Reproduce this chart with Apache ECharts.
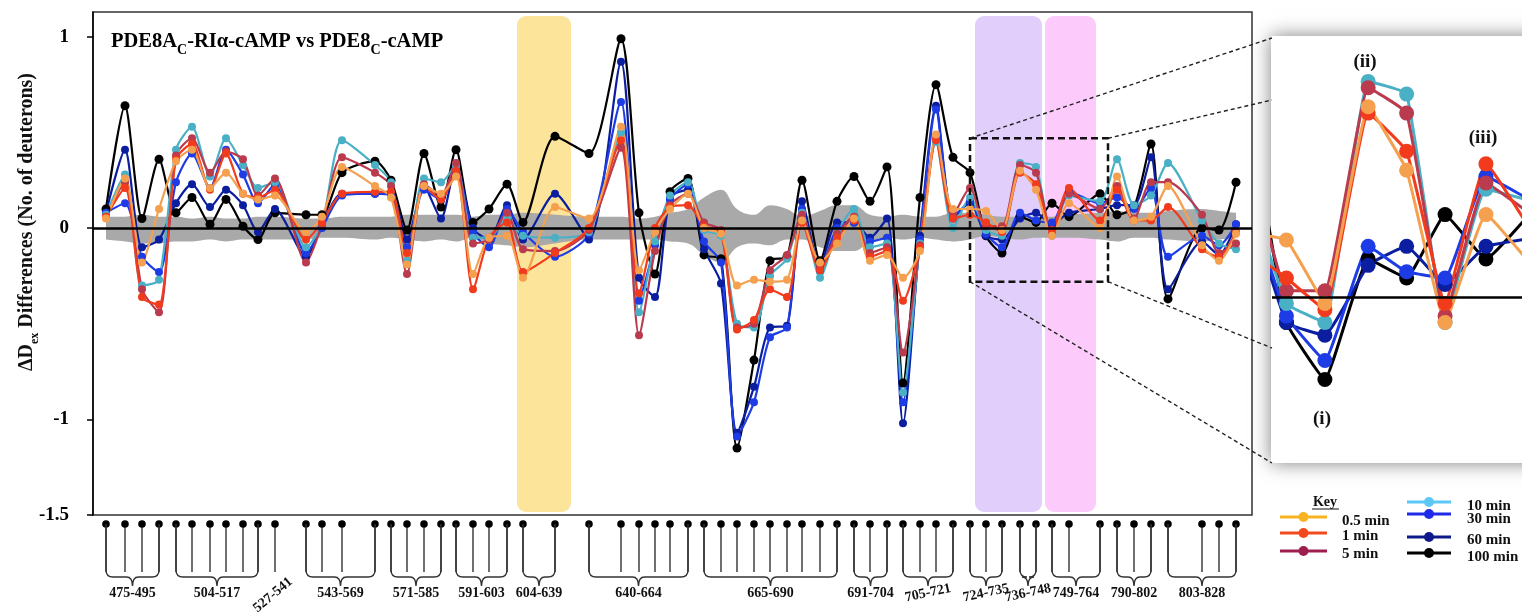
<!DOCTYPE html>
<html>
<head>
<meta charset="utf-8">
<script src="https://cdn.jsdelivr.net/npm/echarts@6/dist/echarts.min.js"></script>
<style>
html, body { margin: 0; padding: 0; background: #fff; }
#chart { width: 1522px; height: 612px; }
</style>
</head>
<body>
<div id="chart"></div>
<script>
// peptide positions along the map (x units shared by every axis)
var pepPos = [13,32,49,66,83,99,117,133,150,165,182,213,229,249,282,298,314,331,348,363,
  380,396,414,430,462,496,528,546,562,577,595,611,628,644,661,677,694,709,727,744,
  761,777,794,810,827,843,860,877,893,909,927,943,959,976,1007,1024,1041,1058,1075,1109,
  1126,1143];

// peptide groups under the axis (first / last point index)
var groupNames = ['475-495','504-517','527-541','543-569','571-585','591-603','604-639','640-664',
  '665-690','691-704','705-721','724-735','736-748','749-764','790-802','803-828'];
var groupFirst = [0,4,10,11,15,19,23,25,31,40,43,47,50,52,55,58];
var groupLast  = [3,9,10,14,18,22,24,30,39,42,46,49,51,54,57,61];

var seriesNames = ['0.5 min','1 min','5 min','10 min','30 min','60 min','100 min'];

var min05 = [0.05,0.26,-0.18,0.10,0.35,0.41,0.21,0.29,0.18,0.15,
  0.17,-0.02,0.06,0.32,0.22,0.16,-0.19,0.22,0.18,0.27,
  -0.24,-0.05,-0.04,-0.26,0.11,0.05,0.53,-0.22,-0.02,0.10,
  0.18,0.00,-0.03,-0.30,-0.27,-0.28,-0.27,0.04,-0.18,-0.08,
  0.05,-0.17,-0.14,-0.26,-0.12,0.49,0.10,0.10,0.09,-0.01,
  0.30,0.20,-0.04,0.13,0.00,0.27,0.04,0.06,0.22,-0.09,
  -0.17,-0.03];
var min1 = [0.06,0.21,-0.36,-0.40,0.36,0.44,0.20,0.39,0.18,0.16,
  0.20,-0.06,0.03,0.18,0.19,0.19,-0.13,0.22,0.15,0.30,
  -0.32,-0.05,0.03,-0.23,-0.13,0.00,0.46,-0.34,0.00,0.11,
  0.12,0.01,-0.02,-0.53,-0.48,-0.32,-0.36,0.03,-0.22,-0.05,
  0.04,-0.15,-0.12,-0.38,-0.10,0.46,0.05,0.07,0.03,-0.02,
  0.29,0.23,-0.01,0.21,0.04,0.20,0.04,0.04,0.11,-0.11,
  -0.15,-0.02];
var min5 = [0.06,0.24,-0.32,-0.44,0.38,0.47,0.29,0.40,0.36,0.17,
  0.26,-0.18,0.02,0.37,0.29,0.22,-0.24,0.23,0.17,0.34,
  -0.08,-0.06,0.08,-0.11,-0.12,-0.01,0.42,-0.56,-0.12,0.12,
  0.18,0.03,-0.01,-0.52,-0.50,-0.22,-0.14,0.07,-0.20,-0.03,
  0.06,-0.13,-0.10,-0.65,-0.09,0.47,0.07,0.21,0.01,0.01,
  0.33,0.29,-0.03,0.18,0.10,0.22,0.05,0.24,0.24,0.07,
  -0.13,-0.08];
var min10 = [0.07,0.28,-0.30,-0.27,0.41,0.53,0.27,0.47,0.33,0.21,
  0.24,-0.10,0.02,0.46,0.33,0.24,-0.17,0.26,0.24,0.33,
  -0.05,-0.05,0.05,-0.04,-0.05,-0.02,0.50,-0.44,-0.07,0.17,
  0.24,-0.01,-0.04,-0.50,-0.52,-0.25,-0.16,0.08,-0.26,-0.02,
  0.10,-0.10,-0.08,-0.86,-0.08,0.45,0.00,0.16,-0.01,-0.04,
  0.34,0.32,-0.04,0.17,0.14,0.36,0.12,0.17,0.34,0.04,
  -0.08,-0.11];
var min30 = [0.08,0.13,-0.15,-0.23,0.24,0.39,0.21,0.41,0.28,0.13,
  0.23,-0.13,0.00,0.17,0.18,0.17,-0.10,0.20,0.15,0.30,
  -0.02,-0.10,0.10,-0.02,-0.15,-0.03,0.66,-0.38,-0.09,0.15,
  0.23,-0.07,-0.18,-1.09,-0.91,-0.57,-0.52,0.10,-0.22,0.00,
  0.03,-0.07,-0.05,-0.91,-0.06,0.62,0.05,0.14,-0.03,-0.10,
  0.08,0.04,0.03,0.19,0.13,0.16,0.10,0.21,-0.15,-0.04,
  -0.09,0.02];
var min60 = [0.08,0.41,-0.10,-0.06,0.13,0.23,0.11,0.20,0.12,-0.02,
  0.10,-0.15,0.02,0.18,0.18,0.18,-0.06,0.22,0.05,0.33,
  0.00,-0.06,0.12,-0.06,0.18,-0.06,0.87,-0.26,-0.36,0.16,
  0.20,-0.11,-0.29,-1.07,-0.83,-0.52,-0.51,0.14,-0.20,0.03,
  0.03,-0.05,0.05,-1.02,-0.04,0.64,0.06,0.13,-0.04,-0.06,
  0.05,0.08,0.02,0.08,0.10,0.12,0.12,0.37,-0.32,-0.07,
  -0.14,0.02];
var min100 = [0.10,0.64,0.05,0.36,0.08,0.16,0.02,0.15,0.01,-0.06,
  0.08,0.07,0.07,0.29,0.35,0.25,-0.01,0.39,0.11,0.41,
  0.03,0.10,0.23,0.03,0.48,0.39,0.99,0.08,-0.24,0.19,
  0.26,-0.14,-0.16,-1.15,-0.69,-0.17,-0.15,0.25,-0.17,0.14,
  0.27,0.14,0.32,-0.81,0.16,0.75,0.37,0.29,-0.04,-0.13,
  0.06,0.03,0.13,0.06,0.18,0.07,0.11,0.44,-0.37,0.00,
  -0.01,0.24];

// significance band around zero
var ciUpper = [0.06,0.06,0.07,0.06,0.06,0.05,0.06,0.05,0.05,0.06,
  0.06,0.05,0.05,0.06,0.06,0.06,0.07,0.07,0.07,0.07,
  0.06,0.07,0.07,0.08,0.07,0.06,0.06,0.05,0.06,0.08,
  0.10,0.16,0.20,0.10,0.07,0.12,0.10,0.06,0.09,0.12,
  0.12,0.07,0.06,0.07,0.06,0.06,0.08,0.08,0.07,0.06,
  0.06,0.06,0.06,0.07,0.08,0.09,0.08,0.08,0.09,0.10,
  0.09,0.08];
var ciLower = [-0.06,-0.07,-0.08,-0.08,-0.07,-0.07,-0.06,-0.07,-0.06,-0.06,
  -0.06,-0.06,-0.05,-0.05,-0.06,-0.05,-0.06,-0.07,-0.06,-0.07,
  -0.05,-0.08,-0.09,-0.10,-0.08,-0.06,-0.06,-0.06,-0.06,-0.07,
  -0.08,-0.14,-0.18,-0.10,-0.08,-0.09,-0.06,-0.06,-0.10,-0.12,
  -0.12,-0.07,-0.05,-0.06,-0.05,-0.06,-0.07,-0.06,-0.04,-0.05,
  -0.06,-0.05,-0.05,-0.05,-0.06,-0.07,-0.05,-0.05,-0.06,-0.07,
  -0.06,-0.05];

var yTicks = [-1.5, -1, 0, 1];
var highlightStart = [424, 882, 952];
var highlightEnd = [478, 949, 1003];
var zoomBox = [877, 0.47, 1015, -0.28];
var insetRange = [887, 991, -0.26, 0.41];

var allSeries = [min05, min1, min5, min10, min30, min60, min100];
var lineColors = ['#F5A04E', '#F23B1C', '#BA3A4E', '#49B0C6', '#1D3CE6', '#0A1E9F', '#000000'];
var keyColors = ['#F8B323', '#F2491D', '#9C1F4F', '#5CC8F5', '#1F2BE8', '#0F1A8A', '#000000'];
var highlightColors = ['#FDE49B', '#E2CEFB', '#FCCBFC'];

var serif = '"Liberation Serif", "Times New Roman", serif';

function pairs(vals) {
  return pepPos.map(function (x, i) { return [x, vals[i]]; });
}

var chart = echarts.init(document.getElementById('chart'));

var series = [];

// shaded highlight columns
series.push({
  type: 'custom', xAxisIndex: 0, yAxisIndex: 0, z: 0, silent: true,
  data: highlightStart.map(function (s, i) { return [s, highlightEnd[i], i]; }),
  renderItem: function (params, api) {
    var cs = params.coordSys;
    var a = api.coord([api.value(0), 0])[0];
    var b = api.coord([api.value(1), 0])[0];
    return {
      type: 'rect',
      shape: { x: a, y: cs.y + 4, width: b - a, height: cs.height - 7, r: 9 },
      style: { fill: highlightColors[api.value(2)] }
    };
  }
});

// grey band
series.push({
  type: 'line', xAxisIndex: 0, yAxisIndex: 0, z: 1, silent: true,
  data: pairs(ciUpper), smooth: 0.4, symbol: 'none',
  lineStyle: { width: 0 }, areaStyle: { color: '#A9A9A9', opacity: 1 },
  markLine: {
    silent: true, symbol: 'none', label: { show: false },
    lineStyle: { color: '#000', width: 2.5, type: 'solid' },
    data: [{ yAxis: 0 }]
  }
});
series.push({
  type: 'line', xAxisIndex: 0, yAxisIndex: 0, z: 1, silent: true,
  data: pairs(ciLower), smooth: 0.4, symbol: 'none',
  lineStyle: { width: 0 }, areaStyle: { color: '#A9A9A9', opacity: 1 }
});

// time-course lines, main plot and inset
for (var k = allSeries.length - 1; k >= 0; k--) {
  series.push({
    name: seriesNames[k], type: 'line', xAxisIndex: 0, yAxisIndex: 0, z: 3,
    data: pairs(allSeries[k]), smooth: 0.25,
    symbol: 'circle', symbolSize: k === 6 ? 9 : 8,
    lineStyle: { color: lineColors[k], width: 2.2 },
    itemStyle: { color: lineColors[k] }
  });
}
for (var k2 = allSeries.length - 1; k2 >= 0; k2--) {
  var s = {
    name: seriesNames[k2], type: 'line', xAxisIndex: 2, yAxisIndex: 2, z: 3,
    data: pairs(allSeries[k2]), smooth: 0.1,
    symbol: 'circle', symbolSize: 15,
    lineStyle: { color: lineColors[k2], width: 3 },
    itemStyle: { color: lineColors[k2] }
  };
  if (k2 === 6) {
    s.markLine = {
      silent: true, symbol: 'none', label: { show: false },
      lineStyle: { color: '#000', width: 2.5, type: 'solid' },
      data: [{ yAxis: 0 }]
    };
  }
  series.push(s);
}

// dashed zoom box
series.push({
  type: 'custom', xAxisIndex: 0, yAxisIndex: 0, z: 6, silent: true,
  data: [zoomBox],
  renderItem: function (params, api) {
    var p1 = api.coord([api.value(0), api.value(1)]);
    var p2 = api.coord([api.value(2), api.value(3)]);
    return {
      type: 'rect',
      shape: { x: p1[0], y: p1[1], width: p2[0] - p1[0], height: p2[1] - p1[1] },
      style: { fill: 'none', stroke: '#111', lineWidth: 2.5, lineDash: [7, 4] }
    };
  }
});

// peptide lollipops
series.push({
  type: 'custom', xAxisIndex: 1, yAxisIndex: 1, silent: true,
  data: pepPos.map(function (x) { return [x, 0]; }),
  renderItem: function (params, api) {
    var x = api.coord([api.value(0), 0])[0];
    var top = params.coordSys.y;
    return {
      type: 'group',
      children: [
        { type: 'line', shape: { x1: x, y1: top + 9, x2: x, y2: top + 57 },
          style: { stroke: '#333', lineWidth: 1.4 } },
        { type: 'circle', shape: { cx: x, cy: top + 9, r: 3.8 }, style: { fill: '#000' } }
      ]
    };
  }
});

var tilted = { '527-541': 40, '705-721': 12, '724-735': 12, '736-748': 12 };
series.push({
  type: 'custom', xAxisIndex: 1, yAxisIndex: 1, silent: true,
  data: groupNames.map(function (n, g) { return [pepPos[groupFirst[g]], pepPos[groupLast[g]], g]; }),
  renderItem: function (params, api) {
    var x1 = api.coord([api.value(0), 0])[0];
    var x2 = api.coord([api.value(1), 0])[0];
    var name = groupNames[api.value(2)];
    var top = params.coordSys.y;
    var by = top + 62, ny = top + 71;
    var cx = (x1 + x2) / 2;
    var children = [];
    if (x2 - x1 > 1) {
      var d = 'M' + x1 + ' ' + (top + 9) + ' L' + x1 + ' ' + (by - 7) +
        ' Q' + x1 + ' ' + by + ' ' + (x1 + 7) + ' ' + by +
        ' L' + (cx - 6) + ' ' + by + ' Q' + cx + ' ' + by + ' ' + cx + ' ' + ny +
        ' Q' + cx + ' ' + by + ' ' + (cx + 6) + ' ' + by +
        ' L' + (x2 - 7) + ' ' + by + ' Q' + x2 + ' ' + by + ' ' + x2 + ' ' + (by - 7) +
        ' L' + x2 + ' ' + (top + 9);
      children.push({ type: 'path', shape: { pathData: d },
        style: { fill: 'none', stroke: '#333', lineWidth: 1.4 } });
    }
    var rot = tilted[name] || 0;
    var lx = cx, ly = top + 78;
    if (name === '527-541') { lx = cx - 2; ly = top + 80; }
    children.push({
      type: 'text', x: lx, y: ly, rotation: rot * Math.PI / 180,
      style: { text: name, font: 'bold 14px ' + serif, fill: '#111',
        align: 'center', verticalAlign: 'middle', textAlign: 'center', textVerticalAlign: 'middle' }
    });
    return { type: 'group', children: children };
  }
});

// key, inset frame, annotations
var graphics = [];
graphics.push({
  type: 'rect', z: 0, silent: true,
  shape: { x: 1271, y: 36, width: 280, height: 427 },
  style: { fill: '#fff', shadowBlur: 18, shadowColor: 'rgba(0,0,0,0.5)' }
});
graphics.push({
  type: 'text', x: 27, y: 222, rotation: Math.PI / 2, z: 10,
  style: {
    text: '{a|ΔD}{s|ex}{a| Differences (No. of deuterons)}',
    align: 'center', verticalAlign: 'middle', textAlign: 'center', textVerticalAlign: 'middle',
    rich: {
      a: { font: 'bold 20px ' + serif, fill: '#111' },
      s: { font: 'bold 12px ' + serif, fill: '#111', padding: [15, 0, 0, 0] }
    }
  }
});
var annot = [['(i)', 1322, 419], ['(ii)', 1365, 62], ['(iii)', 1483, 138]];
annot.forEach(function (a) {
  graphics.push({ type: 'text', x: a[1], y: a[2], z: 10,
    style: { text: a[0], font: 'bold 19px ' + serif, fill: '#111',
      align: 'center', verticalAlign: 'middle', textAlign: 'center', textVerticalAlign: 'middle' } });
});

// key
graphics.push({ type: 'text', x: 1325, y: 502, z: 10,
  style: { text: 'Key', font: 'bold 14px ' + serif, fill: '#111',
    align: 'center', verticalAlign: 'middle', textAlign: 'center', textVerticalAlign: 'middle' } });
graphics.push({ type: 'line', z: 10, shape: { x1: 1312, y1: 509, x2: 1339, y2: 509 },
  style: { stroke: '#111', lineWidth: 1 } });
var keyLineY = [517, 533, 551, 502, 514, 537, 553];
var keyTextY = [521, 536, 554, 506, 519, 540, 557];
seriesNames.forEach(function (n, i) {
  var left = i < 3 ? 1280 : 1407;
  var w = i < 3 ? 47 : 44;
  var tx = i < 3 ? 1342 : 1467;
  graphics.push({ type: 'line', z: 10, shape: { x1: left, y1: keyLineY[i], x2: left + w, y2: keyLineY[i] },
    style: { stroke: keyColors[i], lineWidth: 3 } });
  graphics.push({ type: 'circle', z: 10, shape: { cx: left + w / 2, cy: keyLineY[i], r: 5 },
    style: { fill: keyColors[i] } });
  graphics.push({ type: 'text', x: tx, y: keyTextY[i], z: 10,
    style: { text: n, font: 'bold 15px ' + serif, fill: '#111',
      align: 'left', verticalAlign: 'middle', textAlign: 'left', textVerticalAlign: 'middle' } });
});

var option = {
  animation: false,
  backgroundColor: '#fff',
  title: {
    left: 106, top: 22,
    text: '{a|PDE8A}{s|C}{a|-RIα-cAMP vs PDE8}{s|C}{a|-cAMP}',
    textStyle: {
      rich: {
        a: { fontFamily: serif, fontWeight: 'bold', fontSize: 20.5, color: '#000' },
        s: { fontFamily: serif, fontWeight: 'bold', fontSize: 14, color: '#000', padding: [16, 0, 0, 0] }
      }
    }
  },
  grid: [
    { left: 93, top: 12, width: 1159, height: 503, show: true, borderColor: '#333', borderWidth: 1.5 },
    { left: 93, top: 515, width: 1159, height: 97 },
    { left: 1272, top: 37, width: 250, height: 425 }
  ],
  xAxis: [
    { type: 'value', gridIndex: 0, min: 0, max: 1159, show: false },
    { type: 'value', gridIndex: 1, min: 0, max: 1159, show: false },
    { type: 'value', gridIndex: 2, min: insetRange[0], max: insetRange[1], show: false }
  ],
  yAxis: [
    {
      type: 'value', gridIndex: 0, min: -1.5, max: 1.13,
      splitLine: { show: false },
      axisLine: { show: true, lineStyle: { color: '#000', width: 1.5 } },
      axisTick: { show: true, customValues: yTicks, length: 6, lineStyle: { color: '#000', width: 1.5 } },
      axisLabel: {
        customValues: yTicks, margin: 24,
        fontFamily: serif, fontWeight: 'bold', fontSize: 19, color: '#000',
        formatter: function (v) { return String(v); }
      }
    },
    { type: 'value', gridIndex: 1, min: 0, max: 1, show: false },
    { type: 'value', gridIndex: 2, min: insetRange[2], max: insetRange[3], show: false }
  ],
  graphic: graphics,
  series: series
};

chart.setOption(option);

// dashed connectors from the zoom box to the inset
var tl = chart.convertToPixel({ gridIndex: 0 }, [zoomBox[0], zoomBox[1]]);
var tr = chart.convertToPixel({ gridIndex: 0 }, [zoomBox[2], zoomBox[1]]);
var bl = chart.convertToPixel({ gridIndex: 0 }, [zoomBox[0], zoomBox[3]]);
var br = chart.convertToPixel({ gridIndex: 0 }, [zoomBox[2], zoomBox[3]]);
var ends = [[tl, 1272, 38], [tr, 1272, 100], [bl, 1272, 463], [br, 1272, 348]];
ends.forEach(function (e) {
  graphics.push({ type: 'line', z: 9, silent: true,
    shape: { x1: e[0][0], y1: e[0][1], x2: e[1], y2: e[2] },
    style: { stroke: '#222', lineWidth: 1.4, lineDash: [4, 3] } });
});
chart.setOption({ graphic: graphics });
</script>
</body>
</html>
